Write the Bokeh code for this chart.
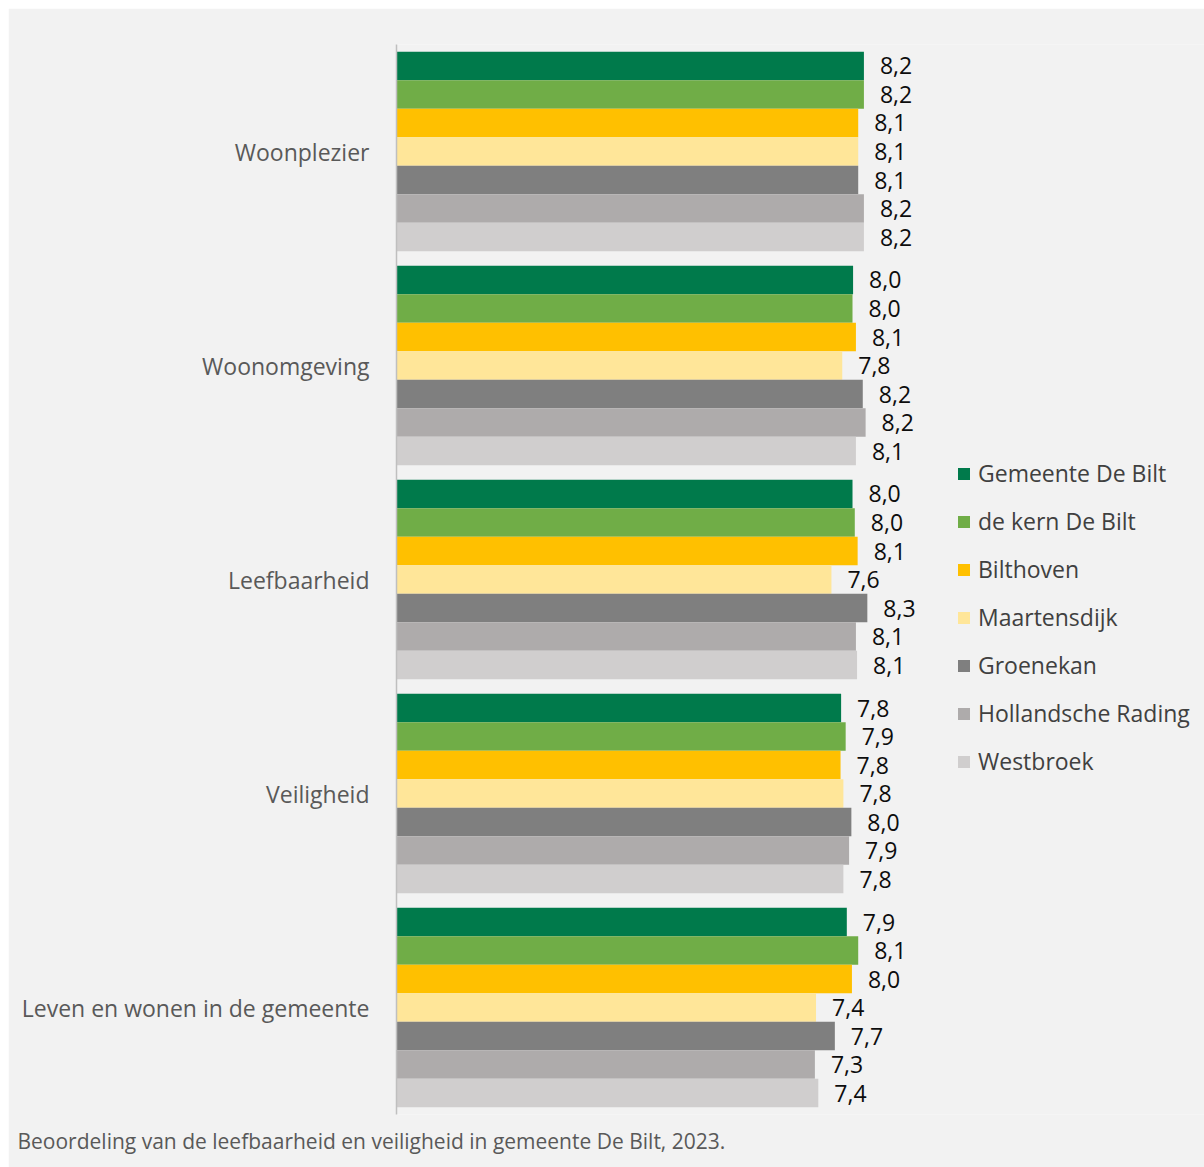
from bokeh.plotting import figure
from bokeh.models import ColumnDataSource, FactorRange, Range1d, Legend, LegendItem, Title
from bokeh.transform import dodge
from bokeh.embed import file_html
from bokeh.resources import INLINE
from bokeh.core.properties import value

categories = ["Woonplezier", "Woonomgeving", "Leefbaarheid", "Veiligheid",
              "Leven en wonen in de gemeente"]
series = ["Gemeente De Bilt", "de kern De Bilt", "Bilthoven", "Maartensdijk",
          "Groenekan", "Hollandsche Rading", "Westbroek"]
colors = ["#007a4b", "#70ad47", "#ffc000", "#ffe699", "#7f7f7f", "#aeabab", "#d0cece"]

gemeente_de_bilt = [8.20, 8.01, 8.00, 7.80, 7.90]
kern_de_bilt = [8.20, 8.00, 8.04, 7.88, 8.10]
bilthoven = [8.10, 8.06, 8.09, 7.79, 7.99]
maartensdijk = [8.10, 7.82, 7.63, 7.84, 7.36]
groenekan = [8.10, 8.18, 8.26, 7.98, 7.69]
hollandsche_rading = [8.20, 8.23, 8.06, 7.94, 7.34]
westbroek = [8.20, 8.06, 8.08, 7.84, 7.40]
all_values = [gemeente_de_bilt, kern_de_bilt, bilthoven, maartensdijk,
              groenekan, hollandsche_rading, westbroek]

caption = "Beoordeling van de leefbaarheid en veiligheid in gemeente De Bilt, 2023."

FONT = "Open Sans"
BAR_H = 28.5 / 214.0

p = figure(width=1196, height=1159, output_backend="svg", toolbar_location=None,
           x_range=Range1d(0, 14.175),
           y_range=FactorRange(factors=categories[::-1], range_padding=0),
           x_axis_location=None,
           min_border_left=388, min_border_right=0, min_border_top=36,
           min_border_bottom=53)
p.margin = (8, 0, 0, 8)
p.background_fill_color = "#f2f2f2"
p.border_fill_color = "#f2f2f2"
p.outline_line_color = None
p.xgrid.visible = False
p.ygrid.visible = False

ax = p.yaxis[0]
ax.axis_line_color = "#bfbfbf"
ax.axis_line_width = 1.5
ax.major_tick_line_color = None
ax.minor_tick_line_color = None
ax.major_label_standoff = 21
ax.major_label_text_font = FONT
ax.major_label_text_font_size = "23px"
ax.major_label_text_color = "#595959"

items = []
for i, (name, vals, col) in enumerate(zip(series, all_values, colors)):
    off = (3 - i) * BAR_H
    src = ColumnDataSource(dict(cat=categories, val=vals,
                                lab=[f"{v:.1f}".replace(".", ",") for v in vals]))
    r = p.hbar(y=dodge("cat", off, range=p.y_range), right="val", left=0,
               height=BAR_H, source=src, fill_color=col, line_color=None)
    p.text(x="val", y=dodge("cat", off, range=p.y_range), text="lab", source=src,
           x_offset=16, text_baseline="middle", text_align="left",
           text_font=value(FONT), text_font_size="23px", text_color="#0d0d0d")
    items.append(LegendItem(label=name, renderers=[r]))

legend = Legend(items=items, location=(560, 337), orientation="vertical",
                background_fill_alpha=0, border_line_color=None,
                glyph_width=15, glyph_height=15, label_standoff=7,
                label_text_font=FONT, label_text_font_size="23px",
                label_text_color="#404040", label_height=31, spacing=16,
                padding=0, margin=0)
p.add_layout(legend)

p.add_layout(Title(text=caption, align="left", offset=-379, standoff=20,
                   text_font=FONT, text_font_size="21px", text_color="#595959",
                   text_font_style="normal"), "below")

open("out.html", "w").write(file_html(p, INLINE))
